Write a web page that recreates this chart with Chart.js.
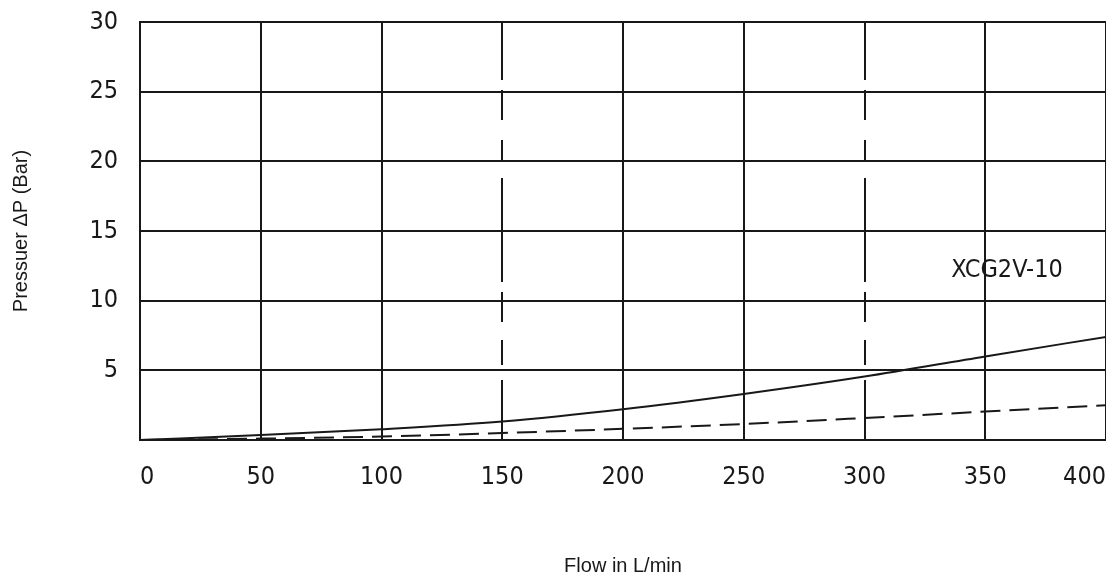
<!DOCTYPE html>
<html lang="en">
<head>
    <meta charset="UTF-8">
    <title>XCG2V-10 Pressure Drop</title>
    <script src="https://cdn.jsdelivr.net/npm/chart.js"></script>
    <style>
        body {
            margin: 0;
            background: #ffffff;
        }
        #chart {
            display: block;
        }
    </style>
</head>
<body>
    <canvas id="chart" width="1106" height="584"></canvas>

    <script>
        // Data
        const flow = [0, 50, 100, 150, 200, 250, 300, 350, 400];
        const solidCurve = [0, 0.35, 0.77, 1.32, 2.2, 3.3, 4.55, 6.0, 7.4];
        const dashedCurve = [0, 0.1, 0.25, 0.5, 0.8, 1.15, 1.58, 2.04, 2.5];
        const xTicks = [0, 50, 100, 150, 200, 250, 300, 350, 400];
        const yTicks = [5, 10, 15, 20, 25, 30];
        const dashedGridAt = [150, 300];
        const curveLabel = 'XCG2V-10';
        const curveLabelAt = { x: 359, y: 12.2 };

        const ink = '#181818';
        const tickFont = { family: "'Liberation Sans Narrow', 'DejaVu Sans Condensed', sans-serif", size: 25 };
        const titleFont = { family: "'Liberation Sans', Arial, sans-serif", size: 20 };
        // the hand-drawn broken grid lines are not evenly dashed
        const gridDash = [58, 10, 30, 20, 22, 16, 104, 10, 30, 18, 25, 15, 60, 100];

        const toPoints = (ys) => flow.map((x, i) => ({ x: x, y: ys[i] }));

        // Draws the curve name at a data position
        const curveLabelPlugin = {
            id: 'curveLabel',
            afterDatasetsDraw(chart) {
                const { ctx, scales } = chart;
                ctx.save();
                ctx.font = tickFont.size + 'px ' + tickFont.family;
                ctx.fillStyle = ink;
                ctx.textAlign = 'center';
                ctx.textBaseline = 'middle';
                ctx.fillText(curveLabel, scales.x.getPixelForValue(curveLabelAt.x), scales.y.getPixelForValue(curveLabelAt.y));
                ctx.restore();
            }
        };

        const chart = new Chart(document.getElementById('chart').getContext('2d'), {
            type: 'line',
            data: {
                datasets: [{
                    label: 'solid',
                    data: toPoints(solidCurve),
                    borderColor: ink,
                    borderWidth: 2,
                    pointRadius: 0,
                    cubicInterpolationMode: 'monotone',
                    fill: false
                }, {
                    label: 'dashed',
                    data: toPoints(dashedCurve),
                    borderColor: ink,
                    borderWidth: 2,
                    borderDash: [20, 9],
                    pointRadius: 0,
                    cubicInterpolationMode: 'monotone',
                    fill: false
                }]
            },
            options: {
                responsive: false,
                animation: false,
                layout: { padding: { top: 22, right: 0, bottom: 0, left: 0 } },
                plugins: {
                    legend: { display: false },
                    tooltip: { enabled: false }
                },
                scales: {
                    x: {
                        type: 'linear',
                        min: 0,
                        max: 400,
                        afterBuildTicks: (scale) => { scale.ticks = xTicks.map(v => ({ value: v })); },
                        afterFit: (scale) => {
                            scale.height = 144;
                            scale.paddingLeft = 0;
                            scale.paddingRight = 0;
                        },
                        ticks: {
                            font: tickFont,
                            color: ink,
                            padding: 22,
                            align: 'inner',
                            maxRotation: 0
                        },
                        grid: {
                            color: ink,
                            lineWidth: 2,
                            drawTicks: false
                        },
                        border: {
                            display: true,
                            color: ink,
                            width: 2,
                            dash: (ctx) => (ctx.tick && dashedGridAt.includes(ctx.tick.value)) ? gridDash : []
                        },
                        title: {
                            display: true,
                            text: 'Flow in L/min',
                            font: titleFont,
                            color: ink,
                            padding: { top: 0, bottom: 6 }
                        }
                    },
                    y: {
                        type: 'linear',
                        min: 0,
                        max: 30,
                        afterBuildTicks: (scale) => { scale.ticks = [0].concat(yTicks).map(v => ({ value: v })); },
                        afterFit: (scale) => {
                            scale.width = 140;
                            scale.paddingTop = 0;
                            scale.paddingBottom = 0;
                        },
                        ticks: {
                            font: tickFont,
                            color: ink,
                            padding: 22,
                            callback: (v) => yTicks.includes(v) ? String(v) : ''
                        },
                        grid: {
                            color: ink,
                            lineWidth: 2,
                            drawTicks: false
                        },
                        border: {
                            display: true,
                            color: ink,
                            width: 2
                        },
                        title: {
                            display: true,
                            text: 'Pressuer ΔP (Bar)',
                            font: titleFont,
                            color: ink,
                            padding: { top: 9, bottom: 0 }
                        }
                    }
                }
            },
            plugins: [curveLabelPlugin]
        });
    </script>
</body>
</html>
